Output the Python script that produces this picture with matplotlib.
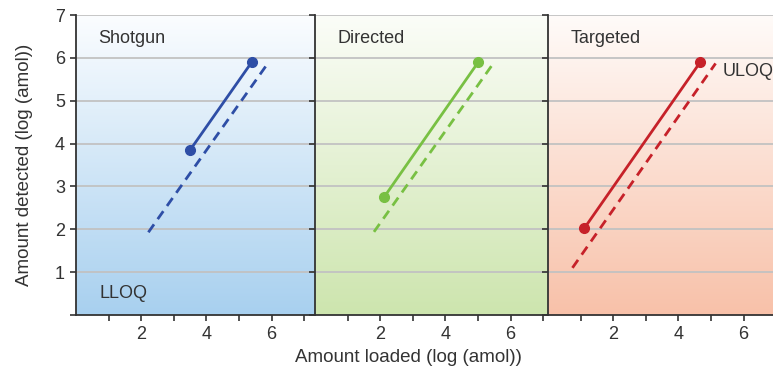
import numpy as np
import matplotlib.pyplot as plt
from matplotlib.colors import LinearSegmentedColormap

plt.rcParams['font.family'] = ['Liberation Sans', 'DejaVu Sans']

# panel data
panel_names = ['Shotgun', 'Directed', 'Targeted']
line_colors = ['#2e4ea6', '#78c043', '#c62129']
bg_bottom = ['#a8d0ef', '#cde5ae', '#f8c1a9']
bg_top = ['#fbfdff', '#fbfdf8', '#fffbf9']

# solid line (detected range), endpoints marked with dots
solid_x = [[3.5, 5.39], [2.12, 5.01], [1.11, 4.67]]
solid_y = [[3.85, 5.9], [2.75, 5.9], [2.02, 5.9]]
# dashed line
dash_x = [[2.22, 5.9], [1.81, 5.49], [0.75, 5.14]]
dash_y = [[1.93, 5.89], [1.94, 5.89], [1.10, 5.87]]

xlims = [7.33, 7.15, 7.3]
x_ticks = [1, 2, 3, 4, 5, 6, 7]
x_labels = ['', '2', '', '4', '', '6', '']
y_ticks = [0, 1, 2, 3, 4, 5, 6, 7]

fig = plt.figure(figsize=(7.73, 3.8), dpi=100)

# pixel geometry of the three panels (left, width)
W, H = 773, 380
boxes = [(76, 239), (315, 233), (548, 238)]
bottom = (H - 315) / H
height = 300 / H

text_color = '#333333'
axes = []
for i in range(3):
    left, width = boxes[i]
    ax = fig.add_axes([left / W, bottom, width / W, height])
    axes.append(ax)

    # vertical gradient background
    cmap = LinearSegmentedColormap.from_list('bg', [bg_bottom[i], bg_top[i]])
    grad = np.linspace(0, 1, 256).reshape(-1, 1)
    ax.imshow(grad, cmap=cmap, aspect='auto', origin='lower',
              extent=[0, 1, 0, 1], transform=ax.transAxes, zorder=0)

    ax.set_xlim(0, xlims[i])
    ax.set_ylim(0, 7)

    for yv in range(1, 8):
        ax.axhline(yv, color='#c2c2c2', lw=1.3, zorder=1)

    ax.plot(dash_x[i], dash_y[i], color=line_colors[i], lw=2, ls=(0, (3.5, 2.3)), zorder=3)
    ax.plot(solid_x[i], solid_y[i], color=line_colors[i], lw=2, zorder=3,
            marker='o', markersize=7)

    ax.text(0.68, 6.45, panel_names[i], fontsize=13, color=text_color,
            va='center', ha='left', zorder=4)

    ax.set_xticks(x_ticks)
    ax.set_xticklabels(x_labels, fontsize=13, color=text_color)
    ax.set_yticks(y_ticks)
    if i == 0:
        ax.set_yticklabels([''] + [str(v) for v in y_ticks[1:]], fontsize=13, color=text_color)
    else:
        ax.set_yticklabels([])
    ax.tick_params(direction='out', length=4, width=1.2, color='#333333', pad=4)

    for s in ['top', 'right']:
        ax.spines[s].set_visible(False)
    for s in ['left', 'bottom']:
        ax.spines[s].set_color('#333333')
        ax.spines[s].set_linewidth(1.3)

axes[0].text(0.72, 0.5, 'LLOQ', fontsize=13, color=text_color, va='center', ha='left', zorder=4)
axes[2].text(5.37, 5.67, 'ULOQ', fontsize=13, color=text_color, va='center', ha='left', zorder=4)

axes[0].set_ylabel('Amount detected (log (amol))', fontsize=13.5, color=text_color, labelpad=16)
fig.text(408 / W, 1 - 357 / H, 'Amount loaded (log (amol))', fontsize=13.5,
         color=text_color, ha='center', va='center')

fig.savefig('out.png', dpi=100)
